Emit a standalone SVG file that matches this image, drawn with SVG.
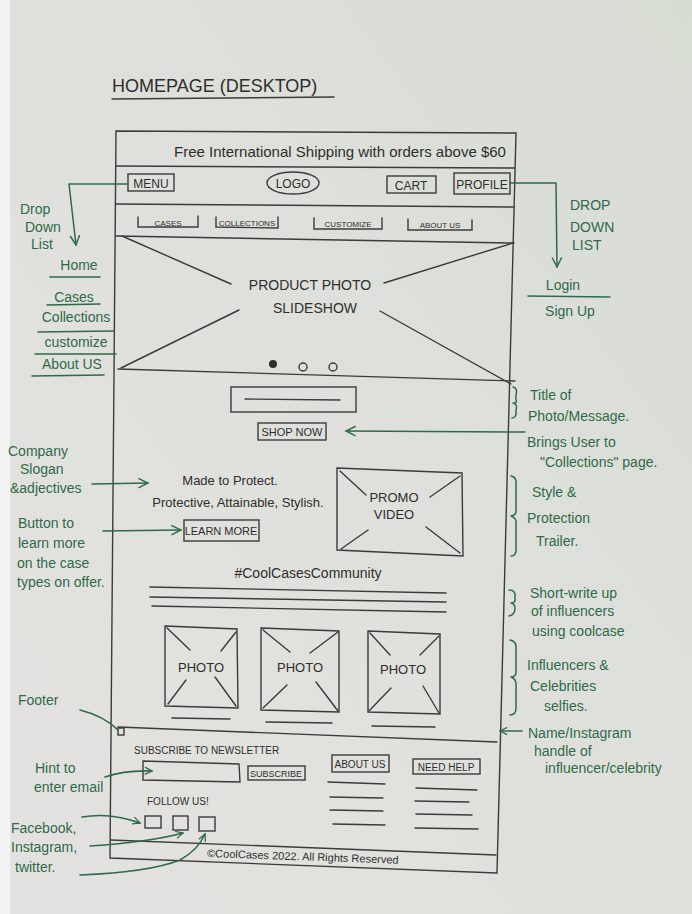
<svg xmlns="http://www.w3.org/2000/svg" width="692" height="914" viewBox="0 0 692 914">
<defs>
<linearGradient id="paper" x1="0" y1="1" x2="1" y2="0">
<stop offset="0" stop-color="#e4e2e0"/>
<stop offset="0.5" stop-color="#dfe0dc"/>
<stop offset="1" stop-color="#d8ddd4"/>
</linearGradient>
<marker id="ah" viewBox="0 0 10 10" refX="9" refY="5" markerWidth="9" markerHeight="9" orient="auto" markerUnits="userSpaceOnUse">
<path d="M1,1 L9,5 L1,9" fill="none" stroke="#2f6a48" stroke-width="1.4"/>
</marker>
<marker id="ahs" viewBox="0 0 10 10" refX="9" refY="5" markerWidth="12" markerHeight="12" orient="auto" markerUnits="userSpaceOnUse">
<path d="M1,1 L9,5 L1,9" fill="none" stroke="#2f6a48" stroke-width="1.2"/>
</marker>
</defs>
<style>
.p{fill:none;stroke:#3b3b39;stroke-width:1.4;stroke-linecap:round}
.pt{font-family:"Liberation Sans",Arial,sans-serif;fill:#2e2e2c}
.g{fill:none;stroke:#2f6a48;stroke-width:1.5;stroke-linecap:round;stroke-linejoin:round}
.gt{font-family:"Liberation Sans",Arial,sans-serif;fill:#2f6a48;font-size:14px}
.m{text-anchor:middle}
</style>
<rect x="0" y="0" width="692" height="914" fill="url(#paper)"/>
<rect x="0" y="0" width="10" height="914" fill="#f3f3f3"/>

<g id="title">
<text class="pt" x="112" y="92" font-size="18">HOMEPAGE (DESKTOP)</text>
<path class="p" d="M112,99 L334,97"/>
</g>

<g id="frame">
<path class="p" d="M116,131 L516,133 L497,873 L110,858 Z"/>
</g>

<g id="shipping-banner">
<path class="p" d="M116,166 L515,168"/>
<text class="pt m" x="340" y="157" font-size="15">Free International Shipping with orders above $60</text>
</g>

<g id="nav-bar">
<path class="p" d="M116,204 L514,207"/>
<rect class="p" x="128" y="174" width="46" height="17"/>
<text class="pt m" x="151" y="188" font-size="12">MENU</text>
<ellipse class="p" cx="293" cy="183" rx="26" ry="11"/>
<text class="pt m" x="293" y="188" font-size="12">LOGO</text>
<rect class="p" x="387" y="176" width="49" height="17"/>
<text class="pt m" x="411" y="190" font-size="12">CART</text>
<rect class="p" x="454" y="173" width="56" height="21"/>
<text class="pt m" x="482" y="189" font-size="12">PROFILE</text>
</g>

<g id="category-tabs">
<path class="p" d="M138,217 L138,227 L198,227 L198,216"/>
<text class="pt m" x="168" y="226" font-size="8">CASES</text>
<path class="p" d="M216,217 L216,227 L278,228 L278,217"/>
<text class="pt m" x="247" y="226" font-size="8">COLLECTIONS</text>
<path class="p" d="M314,218 L314,229 L382,229 L382,218"/>
<text class="pt m" x="348" y="227" font-size="8">CUSTOMIZE</text>
<path class="p" d="M408,219 L408,230 L472,230 L472,220"/>
<text class="pt m" x="440" y="228" font-size="8">ABOUT US</text>
</g>

<g id="hero-slideshow">
<path class="p" d="M116,236 L514,243"/>
<path class="p" d="M118,369 L515,381"/>
<path class="p" d="M122,236 L231,284 M239,310 L121,368 M384,283 L513,243 M380,311 L511,384"/>
<text class="pt m" x="310" y="290" font-size="14">PRODUCT PHOTO</text>
<text class="pt m" x="315" y="313" font-size="14">SLIDESHOW</text>
<circle cx="273" cy="364" r="4" fill="#2e2e2c"/>
<circle class="p" cx="303" cy="367" r="4"/>
<circle class="p" cx="333" cy="367" r="4"/>
</g>

<g id="title-message">
<rect class="p" x="231" y="387" width="125" height="25"/>
<path class="p" d="M245,399 L340,400"/>
</g>

<g id="shop-now">
<rect class="p" x="258" y="423" width="68" height="17"/>
<text class="pt m" x="292" y="436" font-size="11">SHOP NOW</text>
</g>

<g id="slogan">
<text class="pt m" x="230" y="485" font-size="13">Made to Protect.</text>
<text class="pt m" x="238" y="507" font-size="13">Protective, Attainable, Stylish.</text>
</g>

<g id="learn-more">
<rect class="p" x="184" y="520" width="75" height="21"/>
<text class="pt m" x="221" y="535" font-size="11">LEARN MORE</text>
</g>

<g id="promo-video">
<path class="p" d="M337,468 L462,473 L463,556 L337,550 Z"/>
<path class="p" d="M340,471 L366,495 M460,476 L430,497 M341,549 L368,530 M460,553 L426,527"/>
<text class="pt m" x="394" y="502" font-size="13">PROMO</text>
<text class="pt m" x="394" y="519" font-size="13">VIDEO</text>
</g>

<g id="community">
<text class="pt m" x="308" y="578" font-size="14">#CoolCasesCommunity</text>
<path class="p" d="M150,587 L446,593 M150,597 L446,602 M152,606 L446,612"/>
</g>

<g id="photo-1">
<path class="p" d="M165,626 L237,629 L238,708 L165,706 Z"/>
<path class="p" d="M167,628 L190,650 M236,632 L221,651 M168,704 L186,680 M236,706 L215,677"/>
<text class="pt m" x="201" y="672" font-size="13">PHOTO</text>
<path class="p" d="M172,718 L230,719"/>
</g>
<g id="photo-2">
<path class="p" d="M261,628 L339,631 L339,712 L261,710 Z"/>
<path class="p" d="M263,630 L290,652 M338,632 L310,653 M263,708 L287,685 M338,711 L316,682"/>
<text class="pt m" x="300" y="672" font-size="13">PHOTO</text>
<path class="p" d="M266,722 L332,723"/>
</g>
<g id="photo-3">
<path class="p" d="M368,631 L440,634 L440,714 L368,712 Z"/>
<path class="p" d="M370,633 L390,655 M439,636 L420,655 M369,711 L391,688 M439,713 L423,686"/>
<text class="pt m" x="403" y="674" font-size="13">PHOTO</text>
<path class="p" d="M372,726 L435,727"/>
</g>

<g id="footer">
<path class="p" d="M118,727 L497,742"/>
<rect class="p" x="118" y="728" width="6" height="7"/>
<text class="pt" x="134" y="754" font-size="10">SUBSCRIBE TO NEWSLETTER</text>
<path class="p" d="M143,761 L239,764 L240,782 L143,780 Z"/>
<rect class="p" x="248" y="766" width="57" height="14"/>
<text class="pt m" x="276" y="777" font-size="9">SUBSCRIBE</text>
<rect class="p" x="332" y="755" width="57" height="17"/>
<text class="pt m" x="360" y="768" font-size="10">ABOUT US</text>
<rect class="p" x="413" y="759" width="67" height="15"/>
<text class="pt m" x="446" y="771" font-size="10">NEED HELP</text>
<path class="p" d="M328,782 L385,784 M330,797 L383,798 M330,810 L383,811 M333,824 L385,825"/>
<path class="p" d="M416,788 L477,790 M415,801 L469,802 M416,814 L472,815 M415,828 L478,829"/>
<text class="pt" x="147" y="805" font-size="10">FOLLOW US!</text>
<rect class="p" x="145" y="816" width="16" height="12"/>
<rect class="p" x="173" y="816" width="15" height="14"/>
<rect class="p" x="199" y="817" width="16" height="14"/>
<path class="p" d="M111,840 L496,855"/>
<text class="pt" x="207" y="857" font-size="11" transform="rotate(2 207 857)">©CoolCases 2022. All Rights Reserved</text>
</g>

<g id="notes-left">
<text class="gt" x="20" y="214">Drop</text>
<text class="gt" x="25" y="232">Down</text>
<text class="gt" x="31" y="249">List</text>
<text class="gt m" x="79" y="270" font-size="16">Home</text>
<path class="g" d="M50,277 L100,277"/>
<text class="gt m" x="74" y="302" font-size="15">Cases</text>
<path class="g" d="M47,305 L100,304"/>
<text class="gt m" x="76" y="322" font-size="16">Collections</text>
<path class="g" d="M38,332 L114,331"/>
<text class="gt m" x="76" y="347" font-size="15">customize</text>
<path class="g" d="M35,354 L116,354"/>
<text class="gt m" x="72" y="369" font-size="14">About US</text>
<path class="g" d="M32,376 L104,375"/>
<text class="gt" x="8" y="456">Company</text>
<text class="gt" x="20" y="474">Slogan</text>
<text class="gt" x="10" y="493">&amp;adjectives</text>
<text class="gt" x="18" y="528">Button to</text>
<text class="gt" x="18" y="548">learn more</text>
<text class="gt" x="17" y="568">on the case</text>
<text class="gt" x="17" y="587">types on offer.</text>
<text class="gt" x="18" y="705" font-size="16">Footer</text>
<text class="gt" x="35" y="773">Hint to</text>
<text class="gt" x="34" y="792">enter email</text>
<text class="gt" x="11" y="833">Facebook,</text>
<text class="gt" x="11" y="852">Instagram,</text>
<text class="gt" x="15" y="872">twitter.</text>
</g>

<g id="notes-right">
<text class="gt" x="570" y="210">DROP</text>
<text class="gt" x="570" y="232">DOWN</text>
<text class="gt" x="572" y="250">LIST</text>
<text class="gt m" x="563" y="290" font-size="17">Login</text>
<path class="g" d="M528,296 L610,297"/>
<text class="gt m" x="570" y="316" font-size="16">Sign Up</text>
<text class="gt" x="530" y="400">Title of</text>
<text class="gt" x="528" y="421">Photo/Message.</text>
<text class="gt" x="527" y="447">Brings User to</text>
<text class="gt" x="540" y="467" font-size="13">"Collections" page.</text>
<text class="gt" x="532" y="497" font-size="15">Style &amp;</text>
<text class="gt" x="527" y="523" font-size="15">Protection</text>
<text class="gt" x="536" y="546" font-size="15">Trailer.</text>
<text class="gt" x="530" y="598">Short-write up</text>
<text class="gt" x="531" y="616">of influencers</text>
<text class="gt" x="532" y="636">using coolcase</text>
<text class="gt" x="527" y="670">Influencers &amp;</text>
<text class="gt" x="530" y="691">Celebrities</text>
<text class="gt" x="544" y="711">selfies.</text>
<text class="gt" x="528" y="738">Name/Instagram</text>
<text class="gt" x="534" y="756">handle of</text>
<text class="gt" x="545" y="773">influencer/celebrity</text>
</g>

<g id="connectors">
<path class="g" d="M127,184 L69,184 L76,245" marker-end="url(#ahs)"/>
<path class="g" d="M510,183 L556,183 L557,267" marker-end="url(#ahs)"/>
<path class="g" d="M513,387 Q518,388 516,395 L516,400 Q518,403 513,403 Q518,404 516,410 Q517,418 512,418"/>
<path class="g" d="M525,432 L346,431" marker-end="url(#ahs)"/>
<path class="g" d="M92,484 L148,483" marker-end="url(#ahs)"/>
<path class="g" d="M103,531 L181,530" marker-end="url(#ahs)"/>
<path class="g" d="M511,476 Q517,477 516,485 L516,510 Q517,515 511,516 Q517,518 516,524 L516,550 Q516,556 511,556"/>
<path class="g" d="M509,590 Q516,590 515,597 L515,600 Q515,603 511,603 Q515,604 515,608 Q515,615 509,616"/>
<path class="g" d="M510,640 Q517,641 516,650 L516,672 Q516,677 511,677 Q516,679 516,684 L516,708 Q516,715 510,715"/>
<path class="g" d="M522,731 L500,731" marker-end="url(#ah)"/>
<path class="g" d="M80,710 Q104,716 118,730"/>
<path class="g" d="M105,777 Q125,770 152,771" marker-end="url(#ah)"/>
<path class="g" d="M82,817 Q110,812 140,823" marker-end="url(#ah)"/>
<path class="g" d="M90,846 Q150,842 183,833" marker-end="url(#ah)"/>
<path class="g" d="M80,875 Q150,872 180,860 Q198,850 205,834" marker-end="url(#ah)"/>
</g>
</svg>
